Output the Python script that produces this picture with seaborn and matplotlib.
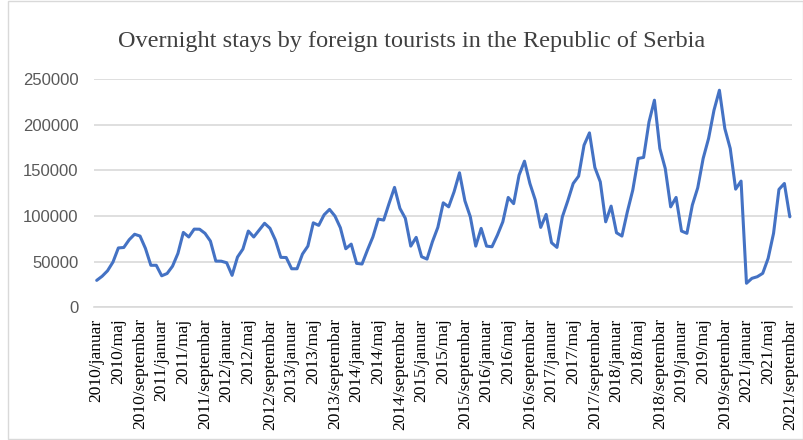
import matplotlib
matplotlib.use("Agg")
import matplotlib.pyplot as plt
import matplotlib.patches as mpatches
import seaborn as sns
import pandas as pd

years = [2010, 2011, 2012, 2013, 2014, 2015, 2016, 2017, 2018, 2019, 2021]
months = ["januar", "februar", "mart", "april", "maj", "jun", "jul", "avgust",
          "septembar", "oktobar", "novembar", "decembar"]

v2010 = [29500, 34000, 40000, 49500, 65000, 65500, 74000, 80000, 78000, 64500, 46000, 46000]
v2011 = [34500, 37000, 45000, 59000, 82000, 77000, 85600, 85500, 81000, 72500, 50600, 50500]
v2012 = [48800, 35000, 55000, 63800, 83500, 77000, 84500, 92000, 86500, 73600, 54700, 54500]
v2013 = [42200, 42200, 58300, 67000, 92500, 89700, 101300, 107200, 99900, 87100, 64100, 69200]
v2014 = [48100, 47400, 62700, 77000, 96600, 95500, 113800, 131300, 108300, 97400, 67000, 76600]
v2015 = [55400, 52800, 71800, 87500, 114400, 110000, 126500, 147300, 116600, 99100, 67000, 86400]
v2016 = [67000, 66300, 79000, 93600, 120300, 113500, 144700, 160000, 135600, 117400, 87500, 101700]
v2017 = [70700, 65600, 99100, 116600, 135600, 143600, 177500, 191000, 153100, 137400, 93600, 110800]
v2018 = [81600, 78000, 104600, 128300, 163000, 164100, 203000, 226800, 173900, 152000, 110000, 120300]
v2019 = [83500, 81000, 111900, 130900, 163000, 184900, 215800, 237700, 195800, 173900, 129400, 138200]
v2021 = [26300, 31700, 33500, 37200, 53600, 81000, 129100, 135600, 99100]

series = [v2010, v2011, v2012, v2013, v2014, v2015, v2016, v2017, v2018, v2019, v2021]
labels, values = [], []
for y, vals in zip(years, series):
    for m, v in zip(months, vals):
        labels.append(f"{y}/{m}")
        values.append(v)

df = pd.DataFrame({"idx": range(len(values)), "period": labels, "stays": values})

sns.set_style("white")
plt.rcParams["font.family"] = ["Liberation Serif", "DejaVu Serif"]

fig = plt.figure(figsize=(8.04, 4.40), dpi=100)
ax = fig.add_axes([94 / 804, 1 - 307.3 / 440, (792.5 - 94) / 804, (307.3 - 79) / 440])

sns.lineplot(data=df, x="idx", y="stays", ax=ax, color="#4472C4", linewidth=2.2)

ax.set_xlim(-0.5, len(values) - 0.5)
ax.set_ylim(0, 250000)
ax.set_yticks(range(0, 250001, 50000))
ax.set_yticklabels([str(t) for t in range(0, 250001, 50000)],
                   fontfamily="Liberation Sans", fontsize=12, color="#595959")
ax.yaxis.grid(True, color="#d9d9d9", linewidth=1.2)
ax.set_axisbelow(True)

tick_pos = list(range(0, len(values), 4))
ax.set_xticks(tick_pos)
ax.set_xticklabels([labels[i] for i in tick_pos], rotation=90, fontsize=12.5,
                   color="#000000", va="top", ha="center")
ax.tick_params(axis="x", length=0, pad=8)
ax.tick_params(axis="y", length=0, pad=11)
ax.set_xticks([i - 0.5 for i in tick_pos], minor=True)
ax.tick_params(axis="x", which="minor", length=4, color="#d9d9d9", width=1)

for s in ["left", "right", "top"]:
    ax.spines[s].set_visible(False)
ax.spines["bottom"].set_color("#d9d9d9")
ax.spines["bottom"].set_linewidth(1.2)
ax.set_xlabel("")
ax.set_ylabel("")

fig.text(412 / 804, 1 - 42 / 440, "Overnight stays by foreign tourists in the Republic of Serbia",
         ha="center", va="center", fontsize=17.5, color="#404040")

fig.patches.append(mpatches.Rectangle((8 / 804, 1 / 440), 795 / 804, 438 / 440,
                                      transform=fig.transFigure, fill=False,
                                      edgecolor="#d9d9d9", linewidth=1))

fig.savefig("out.png", dpi=100)
